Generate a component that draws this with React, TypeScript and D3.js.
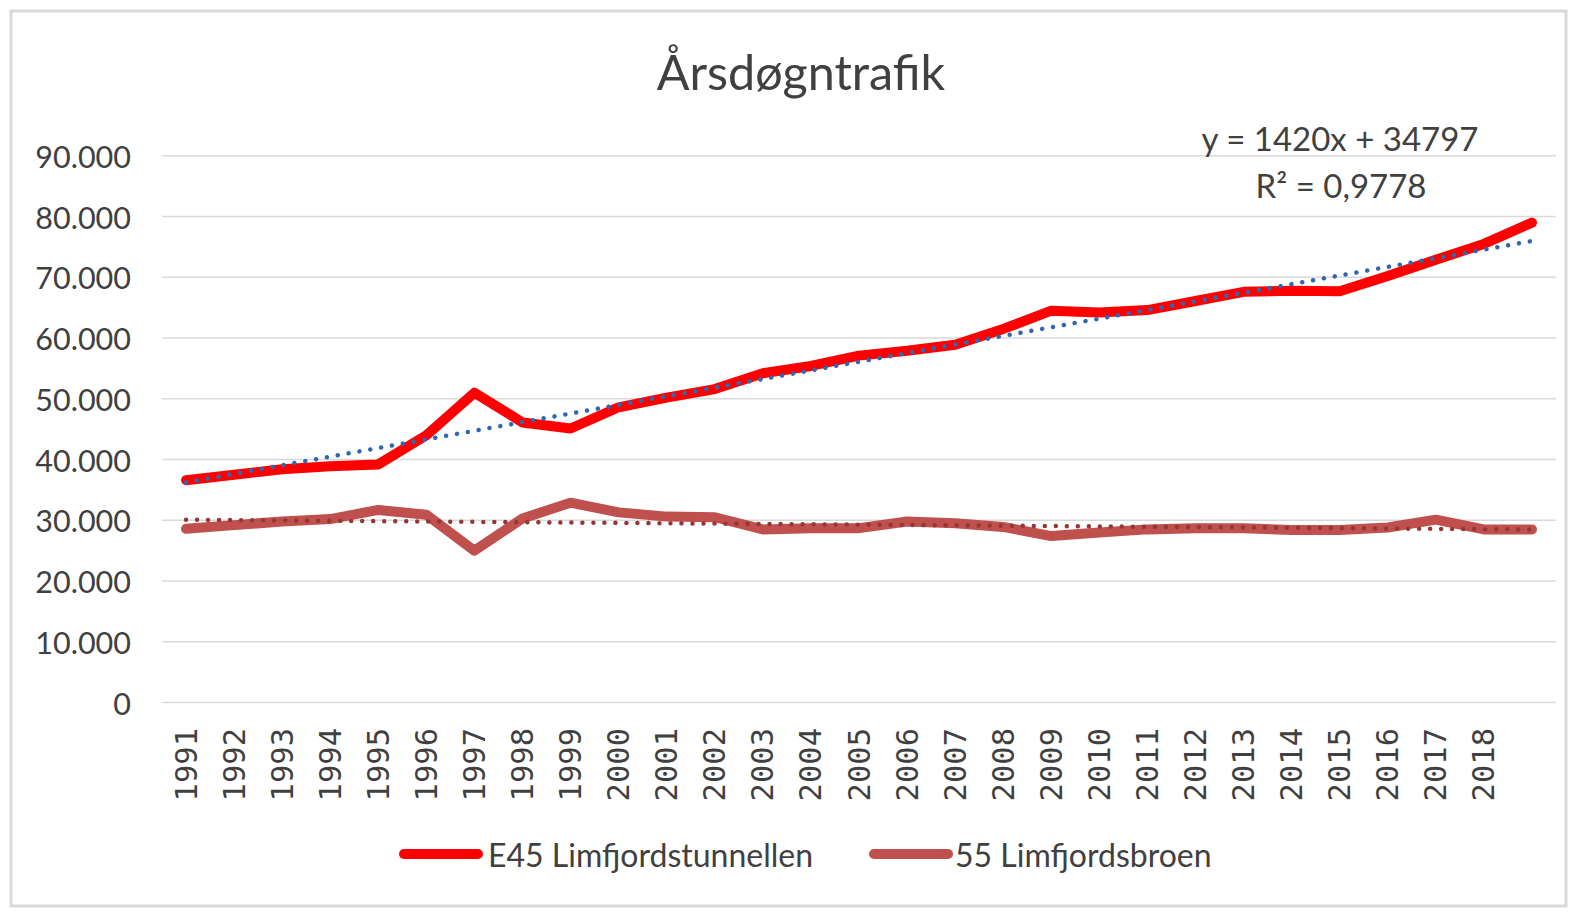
import React from 'react';
import * as d3 from 'd3';

// kategorier (sidste punkt har ingen etiket)
const years = [
  '1991', '1992', '1993', '1994', '1995', '1996', '1997', '1998', '1999', '2000',
  '2001', '2002', '2003', '2004', '2005', '2006', '2007', '2008', '2009', '2010',
  '2011', '2012', '2013', '2014', '2015', '2016', '2017', '2018', '2019',
];
const yearLabels = years.map((y, i) => (i < years.length - 1 ? y : ''));

const e45 = [
  36600, 37500, 38400, 38900, 39200, 44000, 51000, 46100, 45100, 48600,
  50200, 51600, 54200, 55400, 57100, 57900, 58900, 61500, 64500, 64200,
  64600, 66100, 67600, 67800, 67700, 70200, 72900, 75500, 79000,
];
const broen = [
  28600, 29200, 29800, 30200, 31700, 30900, 25000, 30300, 32900, 31300,
  30600, 30500, 28500, 28700, 28700, 29800, 29500, 28900, 27400, 28000,
  28500, 28700, 28700, 28400, 28400, 28800, 30100, 28500, 28500,
];

const yTicks = [0, 10000, 20000, 30000, 40000, 50000, 60000, 70000, 80000, 90000];

// trendlinje for E45 som angivet i diagrammet
const e45Slope = 1420;
const e45Intercept = 34797;

const W = 1576;
const H = 913;
const FONT = 'Lato, "Open Sans", sans-serif';
const TEXT = '#404040';

// lineær regression (x = 1..n) til trendlinje for broen
function linReg(vals: number[]) {
  const xs = vals.map((_, i) => i + 1);
  const mx = d3.mean(xs) as number;
  const my = d3.mean(vals) as number;
  let num = 0;
  let den = 0;
  vals.forEach((v, i) => {
    num += (xs[i] - mx) * (v - my);
    den += (xs[i] - mx) ** 2;
  });
  const slope = num / den;
  return { slope, intercept: my - slope * mx };
}

const fmt = (v: number) => (v === 0 ? '0' : d3.format(',')(v).replace(/,/g, '.'));

export default function App() {
  const x = d3.scaleBand<string>().domain(years).range([162, 1556]);
  const y = d3.scaleLinear().domain([0, 90000]).range([702.5, 155.8]);
  const cx = (i: number) => (x(years[i]) as number) + x.bandwidth() / 2;

  const line = d3.line<number>()
    .x((_, i) => cx(i))
    .y(d => y(d));

  const broenFit = linReg(broen);
  const trendE45 = years.map((_, i) => e45Slope * (i + 1) + e45Intercept);
  const trendBroen = years.map((_, i) => broenFit.slope * (i + 1) + broenFit.intercept);

  return (
    <svg
      width={W}
      height={H}
      viewBox={`0 0 ${W} ${H}`}
      style={{ position: 'absolute', left: 0, top: 0, background: '#fff' }}
    >
      <rect x={0} y={0} width={W} height={H} fill="#fff" />
      <rect x={11} y={11} width={1555} height={895} fill="#fff" stroke="#d9d9d9" strokeWidth={3} />

      <text x={801} y={90} textAnchor="middle" fontFamily={FONT} fontSize={48.5} fill={TEXT}>
        Årsdøgntrafik
      </text>

      {/* gitterlinjer + y-akse */}
      {yTicks.map(t => (
        <g key={t}>
          <line x1={162} x2={1556} y1={y(t)} y2={y(t)} stroke="#d9d9d9" strokeWidth={1.5} />
          <text
            x={131}
            y={y(t)}
            textAnchor="end"
            dominantBaseline="central"
            fontFamily={FONT}
            fontSize={30.5}
            fill={TEXT}
          >
            {fmt(t)}
          </text>
        </g>
      ))}

      {/* x-akse */}
      {years.map((yr, i) => (
        <text
          key={yr}
          transform={`translate(${cx(i)},728) rotate(-90)`}
          textAnchor="end"
          dominantBaseline="central"
          fontFamily='"DejaVu Sans Mono", monospace'
          fontSize={30.5}
          fill={TEXT}
        >
          {yearLabels[i]}
        </text>
      ))}

      {/* serier */}
      <path d={line(e45) as string} fill="none" stroke="#ff0000" strokeWidth={10} strokeLinejoin="round" strokeLinecap="round" />
      <path d={line(broen) as string} fill="none" stroke="#c0504d" strokeWidth={10} strokeLinejoin="round" strokeLinecap="round" />

      {/* trendlinjer */}
      <path d={line(trendBroen) as string} fill="none" stroke="#953735" strokeWidth={4.5} strokeDasharray="0.01 11" strokeLinecap="round" />
      <path d={line(trendE45) as string} fill="none" stroke="#2f67b1" strokeWidth={4.5} strokeDasharray="0.01 11" strokeLinecap="round" />

      <text x={1340} y={151} textAnchor="middle" fontFamily={FONT} fontSize={33} fill={TEXT}>
        y = 1420x + 34797
      </text>
      <text x={1341} y={198} textAnchor="middle" fontFamily={FONT} fontSize={33} fill={TEXT}>
        R² = 0,9778
      </text>

      {/* legende */}
      <line x1={404} x2={478} y1={854} y2={854} stroke="#ff0000" strokeWidth={10} strokeLinecap="round" />
      <text x={488} y={854} dominantBaseline="central" fontFamily={FONT} fontSize={32} fill={TEXT}>
        E45 Limfjordstunnellen
      </text>
      <line x1={874} x2={948} y1={854} y2={854} stroke="#c0504d" strokeWidth={10} strokeLinecap="round" />
      <text x={955} y={854} dominantBaseline="central" fontFamily={FONT} fontSize={32} fill={TEXT}>
        55 Limfjordsbroen
      </text>
    </svg>
  );
}
